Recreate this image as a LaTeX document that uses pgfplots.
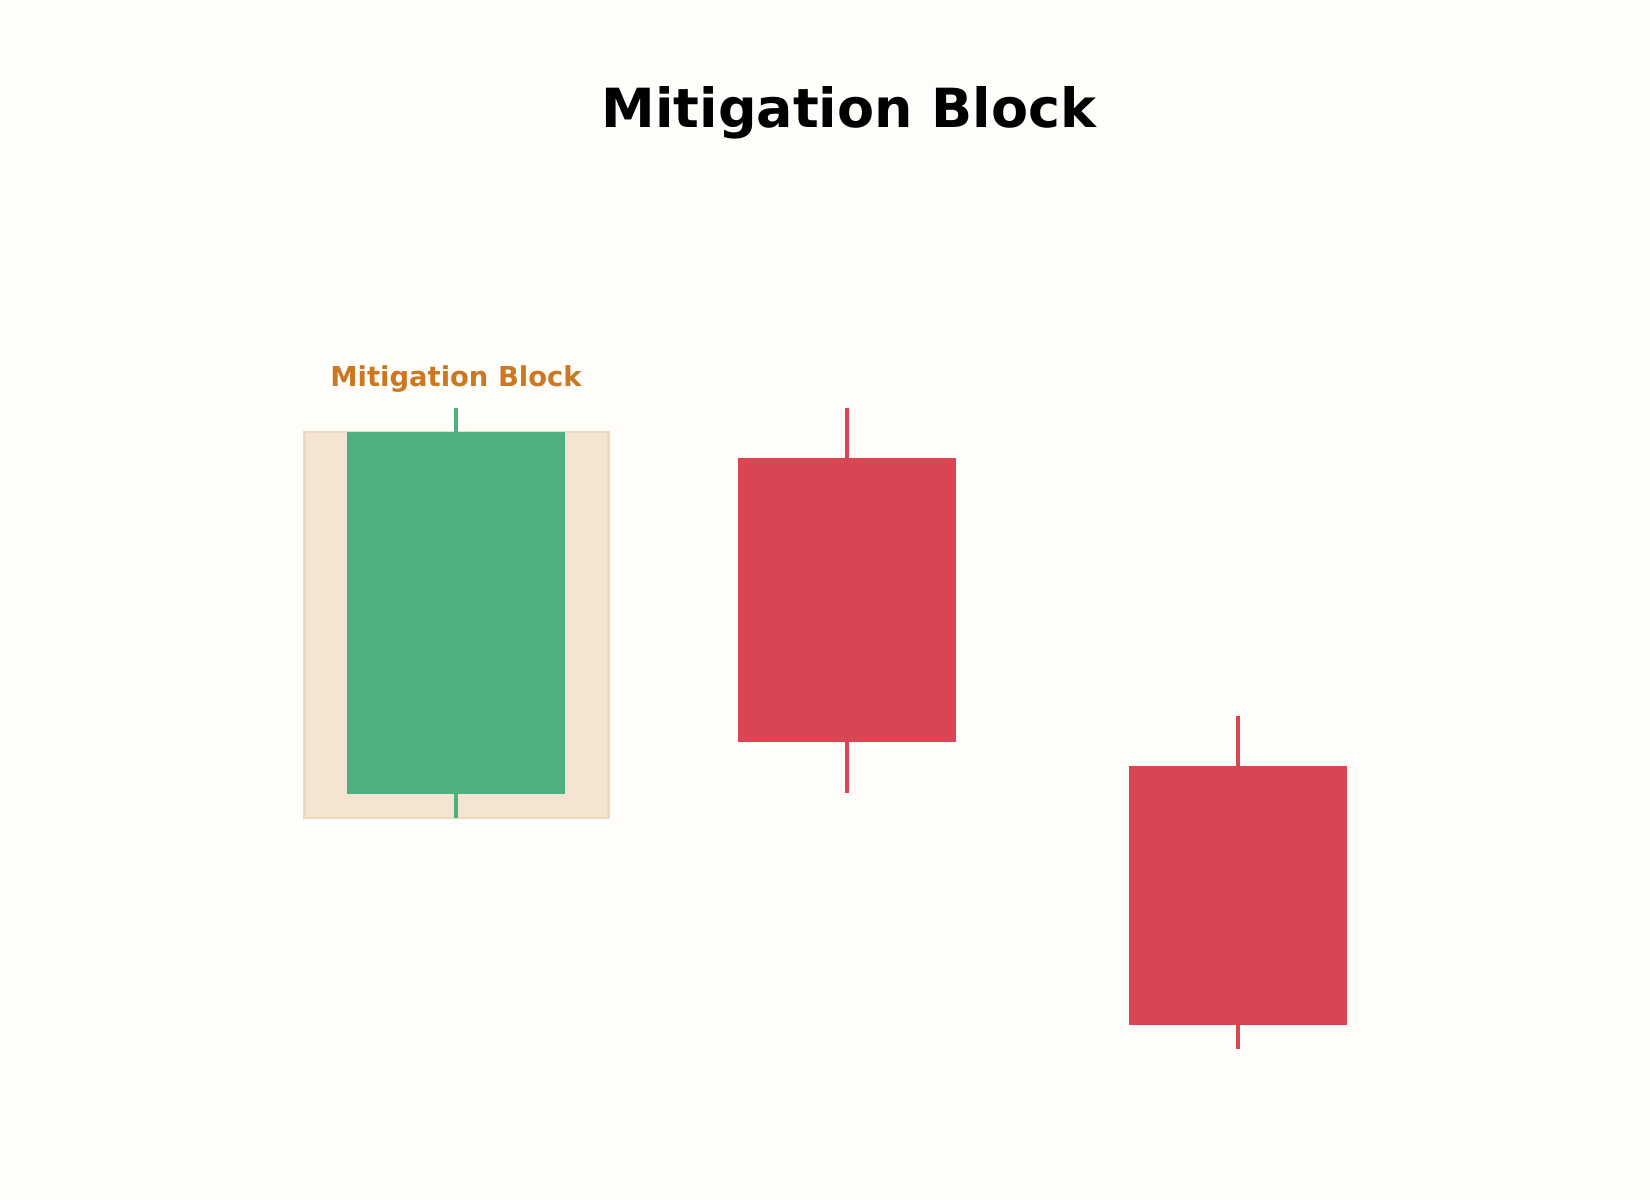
\documentclass[border=0pt]{standalone}
\usepackage{pgfplots}
\pgfplotsset{compat=1.18}
\usepackage{fontspec}
\setmainfont{DejaVu Sans}

\definecolor{bgpaper}{HTML}{FEFDF9}
\definecolor{bull}{HTML}{4EB07F}
\definecolor{bear}{HTML}{D94552}
\definecolor{zonefill}{HTML}{F4E5D2}
\definecolor{zoneedge}{HTML}{EFD9BC}
\definecolor{zonetext}{HTML}{CC7722}

\begin{document}
\begin{tikzpicture}
% page is 1650 x 1200 px, 1 px = 0.48 bp
\fill[bgpaper] (0,0) rectangle (792bp,576bp);
\node[anchor=base, font=\fontsize{26}{31}\selectfont\bfseries] at (407.5bp,515bp) {Mitigation Block};

\begin{axis}[
    at={(0,0)}, anchor=south west,
    scale only axis,
    width=792bp, height=576bp,
    hide axis,
    clip=false,
    xmin=-1.1662, xmax=3.0537,
    ymin=92.042, ymax=117.042,
]
% mitigation zone behind the bullish candle
\addplot[fill=zonefill, draw=zoneedge, line width=1.3bp]
    coordinates {(-0.388,100.0) (0.39,100.0) (0.39,108.04) (-0.388,108.04)} -- cycle;

% wicks: low to high
\addplot[bull, line width=1.92bp] coordinates {(0,100.00) (0,108.54)};
\addplot[bear, line width=1.92bp] coordinates {(1,100.52) (1,108.54)};
\addplot[bear, line width=1.92bp] coordinates {(2,95.19) (2,102.13)};

% bodies: open to close
\addplot[fill=bull, draw=none]
    coordinates {(-0.28,100.50) (0.28,100.50) (0.28,108.04) (-0.28,108.04)} -- cycle;
\addplot[fill=bear, draw=none]
    coordinates {(0.72,101.58) (1.28,101.58) (1.28,107.50) (0.72,107.50)} -- cycle;
\addplot[fill=bear, draw=none]
    coordinates {(1.72,95.69) (2.28,95.69) (2.28,101.08) (1.72,101.08)} -- cycle;

\node[anchor=base, text=zonetext, font=\fontsize{13.2}{16}\selectfont\bfseries]
    at (axis cs:0,108.98) {Mitigation Block};
\end{axis}
\end{tikzpicture}
\end{document}
